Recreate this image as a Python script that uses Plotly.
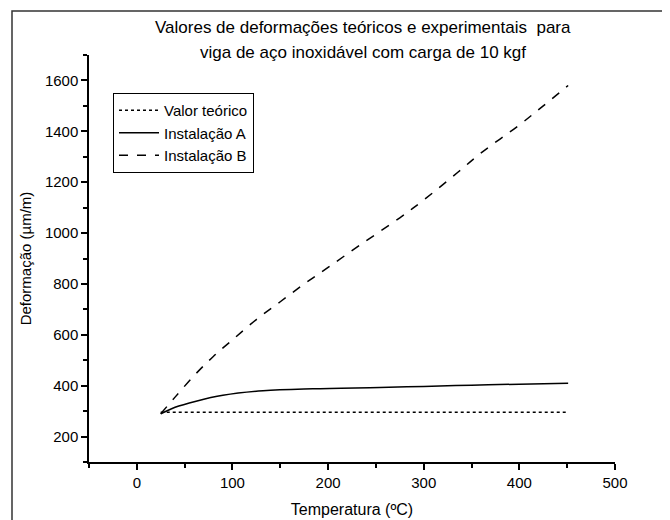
import plotly.graph_objects as go

# Data
teorico_x = [25, 450]
teorico_y = [296, 296]

inst_a_x = [25, 40, 62, 90, 132, 184, 254, 300, 350, 400, 451]
inst_a_y = [289, 315, 339, 362, 380, 388, 393, 397, 402, 406, 410]

inst_b_x = [25, 40, 60, 80, 100, 125, 150, 175, 200, 233, 275, 300, 336, 360, 400, 425, 451]
inst_b_y = [290, 355, 440, 515, 580, 660, 730, 800, 865, 952, 1060, 1130, 1240, 1315, 1425, 1500, 1580]

title_lines = ["Valores de deformações teóricos e experimentais  para",
               "viga de aço inoxidável com carga de 10 kgf"]

FONT = "Liberation Sans, Arial, sans-serif"

fig = go.Figure()
fig.add_trace(go.Scatter(x=teorico_x, y=teorico_y, mode="lines", name="Valor teórico",
                         line=dict(color="black", width=1.5, dash="dot")))
fig.add_trace(go.Scatter(x=inst_a_x, y=inst_a_y, mode="lines", name="Instalação A",
                         line=dict(color="black", width=1.5, shape="spline")))
fig.add_trace(go.Scatter(x=inst_b_x, y=inst_b_y, mode="lines", name="Instalação B",
                         line=dict(color="black", width=1.5, dash="dash", shape="spline")))

OFF = 8  # page body margin
W, H = 670 - OFF, 520 - OFF
# plot area in page pixels: x 89..615, y 55..462
PX0, PX1, PY0, PY1 = 89, 615, 55, 462
L, T = PX0 - OFF, PY0 - OFF
R = W - (PX1 - OFF)
B = H - (PY1 - OFF)
pw, ph = PX1 - PX0, PY1 - PY0

def px(xp):
    return (xp - PX0) / pw

def py(yp):
    return (PY1 - yp) / ph

fig.update_layout(
    width=W, height=H,
    margin=dict(l=L, r=R, t=T, b=B, autoexpand=False),
    paper_bgcolor="white", plot_bgcolor="white",
    font=dict(family=FONT, size=15, color="black"),
    showlegend=True,
    legend=dict(x=px(113), y=py(93), xanchor="left", yanchor="top",
                bordercolor="black", borderwidth=1, bgcolor="white",
                font=dict(size=15), tracegroupgap=0, itemwidth=40),
    xaxis=dict(range=[-50, 500], dtick=100, tick0=0, showgrid=False, zeroline=False,
               automargin=False,
               showline=True, linecolor="black", linewidth=1.5,
               ticks="outside", ticklen=6, tickwidth=1.5, tickcolor="black",
               tickfont=dict(size=15),
               minor=dict(dtick=50, tick0=0, ticks="outside", ticklen=4, tickwidth=1.5, tickcolor="black"),
               title=dict(text="Temperatura (ºC)", font=dict(size=16), standoff=14)),
    yaxis=dict(range=[100, 1700], dtick=200, tick0=0, showgrid=False, zeroline=False,
               automargin=False,
               showline=True, linecolor="black", linewidth=1.5,
               ticks="outside", ticklen=6, tickwidth=1.5, tickcolor="black",
               tickfont=dict(size=15),
               minor=dict(dtick=100, tick0=0, ticks="outside", ticklen=4, tickwidth=1.5, tickcolor="black"),
               title=dict(text="Deformação (µm/m)", font=dict(size=15), standoff=10)),
)

for txt, yp in zip(title_lines, [28, 52]):
    fig.add_annotation(text=txt, xref="paper", yref="paper", x=px(363), y=py(yp),
                       xanchor="center", yanchor="middle", showarrow=False,
                       font=dict(size=17, family=FONT, color="black"))

fig.add_shape(type="rect", xref="paper", yref="paper",
              x0=px(12), y0=py(560), x1=px(720), y1=py(11),
              line=dict(color="#333", width=1.5), layer="above")

fig.write_html("out.html")
